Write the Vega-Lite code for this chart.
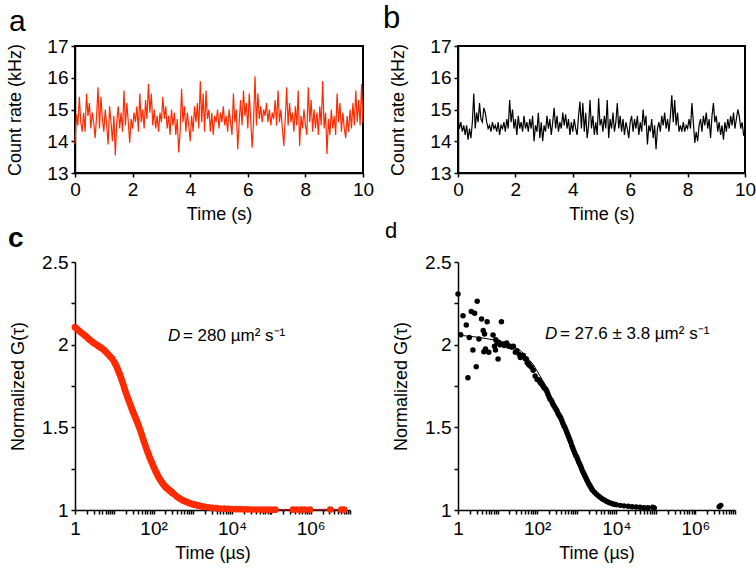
{
"$schema": "https://vega.github.io/schema/vega-lite/v6.json",
"background": "white",
"padding": {"left": 5, "top": 2, "right": 5, "bottom": 5},
"columns": 2,
"bounds": "flush",
"spacing": {"row": 89, "column": 95},
"config": {
  "font": "Liberation Sans",
  "view": {"stroke": null},
  "axis": {"grid": false, "labelFlush": false, "domainColor": "black", "domainWidth": 1.5, "tickColor": "black", "tickWidth": 1.5, "tickSize": 4, "labelColor": "black", "titleColor": "black", "labelFontSize": 19, "titleFontSize": 18, "titleFontWeight": "normal", "labelPadding": 3, "titlePadding": 6},
  "title": {"color": "black", "fontWeight": "normal"}
},
"concat": [
{
  "width": 288, "height": 127,
  "title": {"text": "a", "anchor": "start", "frame": "group", "dx": -66, "offset": -24, "baseline": "alphabetic", "fontSize": 30, "fontWeight": "normal"},
  "view": {"stroke": "black", "strokeWidth": 2},
  "data": {"values": [
{"t":0,"v":13.92},{"t":0.05,"v":14.85},{"t":0.1,"v":14.5},{"t":0.15,"v":15.4},{"t":0.2,"v":14.6},{"t":0.25,"v":14.3},{"t":0.3,"v":14.9},{"t":0.35,"v":14.3},{"t":0.4,"v":15.5},{"t":0.45,"v":14.8},
{"t":0.5,"v":15.2},{"t":0.55,"v":14.4},{"t":0.6,"v":14.9},{"t":0.65,"v":14.6},{"t":0.7,"v":14.1},{"t":0.75,"v":14.8},{"t":0.8,"v":15.7},{"t":0.85,"v":14.4},{"t":0.9,"v":15.4},{"t":0.95,"v":14.7},
{"t":1,"v":14.3},{"t":1.05,"v":15.0},{"t":1.1,"v":14.5},{"t":1.15,"v":13.9},{"t":1.2,"v":15.1},{"t":1.25,"v":14.6},{"t":1.3,"v":14.0},{"t":1.35,"v":14.8},{"t":1.4,"v":13.55},{"t":1.45,"v":14.6},
{"t":1.5,"v":15.1},{"t":1.55,"v":14.4},{"t":1.6,"v":14.9},{"t":1.65,"v":14.3},{"t":1.7,"v":15.6},{"t":1.75,"v":14.5},{"t":1.8,"v":15.2},{"t":1.85,"v":14.6},{"t":1.9,"v":13.95},{"t":1.95,"v":14.7},
{"t":2,"v":14.4},{"t":2.05,"v":14.9},{"t":2.1,"v":14.6},{"t":2.15,"v":15.1},{"t":2.2,"v":14.3},{"t":2.25,"v":15.5},{"t":2.3,"v":14.6},{"t":2.35,"v":15.0},{"t":2.4,"v":14.4},{"t":2.45,"v":15.3},
{"t":2.5,"v":14.7},{"t":2.55,"v":15.8},{"t":2.6,"v":14.9},{"t":2.65,"v":15.5},{"t":2.7,"v":14.5},{"t":2.75,"v":15.0},{"t":2.8,"v":14.4},{"t":2.85,"v":14.8},{"t":2.9,"v":14.3},{"t":2.95,"v":14.9},
{"t":3,"v":14.6},{"t":3.05,"v":15.4},{"t":3.1,"v":14.7},{"t":3.15,"v":15.1},{"t":3.2,"v":14.4},{"t":3.25,"v":14.8},{"t":3.3,"v":14.2},{"t":3.35,"v":15.0},{"t":3.4,"v":14.5},{"t":3.45,"v":14.9},
{"t":3.5,"v":14.2},{"t":3.55,"v":14.7},{"t":3.6,"v":13.65},{"t":3.65,"v":14.3},{"t":3.7,"v":15.65},{"t":3.75,"v":14.6},{"t":3.8,"v":15.1},{"t":3.85,"v":14.3},{"t":3.9,"v":14.9},{"t":3.95,"v":14.5},
{"t":4,"v":14.0},{"t":4.05,"v":14.8},{"t":4.1,"v":14.3},{"t":4.15,"v":15.1},{"t":4.2,"v":14.6},{"t":4.25,"v":15.2},{"t":4.3,"v":14.4},{"t":4.35,"v":15.9},{"t":4.4,"v":14.6},{"t":4.45,"v":15.5},
{"t":4.5,"v":14.3},{"t":4.55,"v":15.6},{"t":4.6,"v":14.7},{"t":4.65,"v":15.0},{"t":4.7,"v":14.3},{"t":4.75,"v":14.9},{"t":4.8,"v":14.2},{"t":4.85,"v":14.8},{"t":4.9,"v":14.6},{"t":4.95,"v":15.0},
{"t":5,"v":14.4},{"t":5.05,"v":14.9},{"t":5.1,"v":14.6},{"t":5.15,"v":15.1},{"t":5.2,"v":14.5},{"t":5.25,"v":14.8},{"t":5.3,"v":14.3},{"t":5.35,"v":15.0},{"t":5.4,"v":14.6},{"t":5.45,"v":14.2},
{"t":5.5,"v":15.5},{"t":5.55,"v":14.6},{"t":5.6,"v":15.0},{"t":5.65,"v":13.75},{"t":5.7,"v":14.6},{"t":5.75,"v":15.3},{"t":5.8,"v":14.5},{"t":5.85,"v":15.6},{"t":5.9,"v":14.8},{"t":5.95,"v":15.2},
{"t":6,"v":14.4},{"t":6.05,"v":15.5},{"t":6.1,"v":14.7},{"t":6.15,"v":13.8},{"t":6.2,"v":14.6},{"t":6.25,"v":16.05},{"t":6.3,"v":14.5},{"t":6.35,"v":15.5},{"t":6.4,"v":14.7},{"t":6.45,"v":15.1},
{"t":6.5,"v":14.6},{"t":6.55,"v":15.0},{"t":6.6,"v":14.8},{"t":6.65,"v":15.2},{"t":6.7,"v":14.6},{"t":6.75,"v":15.0},{"t":6.8,"v":14.5},{"t":6.85,"v":14.9},{"t":6.9,"v":14.7},{"t":6.95,"v":15.3},
{"t":7,"v":14.5},{"t":7.05,"v":15.6},{"t":7.1,"v":14.6},{"t":7.15,"v":15.0},{"t":7.2,"v":14.4},{"t":7.25,"v":13.85},{"t":7.3,"v":14.7},{"t":7.35,"v":15.7},{"t":7.4,"v":14.5},{"t":7.45,"v":15.2},
{"t":7.5,"v":14.6},{"t":7.55,"v":14.9},{"t":7.6,"v":14.3},{"t":7.65,"v":15.1},{"t":7.7,"v":14.5},{"t":7.75,"v":15.6},{"t":7.8,"v":13.85},{"t":7.85,"v":14.8},{"t":7.9,"v":14.4},{"t":7.95,"v":15.0},
{"t":8,"v":14.5},{"t":8.05,"v":14.2},{"t":8.1,"v":15.7},{"t":8.15,"v":14.6},{"t":8.2,"v":15.3},{"t":8.25,"v":14.3},{"t":8.3,"v":15.0},{"t":8.35,"v":14.4},{"t":8.4,"v":14.9},{"t":8.45,"v":14.2},
{"t":8.5,"v":15.1},{"t":8.55,"v":14.5},{"t":8.6,"v":15.9},{"t":8.65,"v":14.4},{"t":8.7,"v":14.9},{"t":8.75,"v":13.6},{"t":8.8,"v":14.7},{"t":8.85,"v":14.2},{"t":8.9,"v":15.0},{"t":8.95,"v":14.4},
{"t":9,"v":14.8},{"t":9.05,"v":14.2},{"t":9.1,"v":15.5},{"t":9.15,"v":14.6},{"t":9.2,"v":15.2},{"t":9.25,"v":14.3},{"t":9.3,"v":14.9},{"t":9.35,"v":14.4},{"t":9.4,"v":14.1},{"t":9.45,"v":14.8},
{"t":9.5,"v":14.3},{"t":9.55,"v":15.0},{"t":9.6,"v":14.4},{"t":9.65,"v":15.2},{"t":9.7,"v":14.5},{"t":9.75,"v":15.6},{"t":9.8,"v":14.6},{"t":9.85,"v":15.3},{"t":9.9,"v":14.5},{"t":9.95,"v":15.8},
{"t":10,"v":14.6}
  ]},
  "mark": {"type": "line", "color": "#ff2a00", "strokeWidth": 1.2},
  "encoding": {
    "x": {"field": "t", "type": "quantitative", "scale": {"domain": [0, 10], "nice": false}, "axis": {"values": [0, 2, 4, 6, 8, 10], "title": "Time (s)"}},
    "y": {"field": "v", "type": "quantitative", "scale": {"domain": [13, 17], "nice": false}, "axis": {"values": [13, 14, 15, 16, 17], "title": "Count rate (kHz)", "titlePadding": 22}}
  }
},
{
  "width": 287, "height": 127,
  "title": {"text": "b", "anchor": "start", "frame": "group", "dx": -75, "offset": -22, "baseline": "alphabetic", "fontSize": 31, "fontWeight": "normal"},
  "view": {"stroke": "black", "strokeWidth": 2},
  "data": {"values": [
{"t":0,"v":14.7},{"t":0.05,"v":14.4},{"t":0.1,"v":14.6},{"t":0.15,"v":14.3},{"t":0.2,"v":14.5},{"t":0.25,"v":14.2},{"t":0.3,"v":14.5},{"t":0.35,"v":14.05},{"t":0.4,"v":14.4},{"t":0.45,"v":14.1},
{"t":0.5,"v":14.6},{"t":0.55,"v":15.5},{"t":0.6,"v":14.4},{"t":0.65,"v":14.9},{"t":0.7,"v":14.6},{"t":0.75,"v":15.2},{"t":0.8,"v":14.7},{"t":0.85,"v":14.6},{"t":0.9,"v":15.05},{"t":0.95,"v":14.9},
{"t":1,"v":14.6},{"t":1.05,"v":14.4},{"t":1.1,"v":14.5},{"t":1.15,"v":14.3},{"t":1.2,"v":14.6},{"t":1.25,"v":14.4},{"t":1.3,"v":14.5},{"t":1.35,"v":14.3},{"t":1.4,"v":14.6},{"t":1.45,"v":14.2},
{"t":1.5,"v":14.5},{"t":1.55,"v":14.4},{"t":1.6,"v":14.6},{"t":1.65,"v":14.3},{"t":1.7,"v":14.7},{"t":1.75,"v":14.4},{"t":1.8,"v":15.3},{"t":1.85,"v":14.6},{"t":1.9,"v":15.0},{"t":1.95,"v":14.4},
{"t":2,"v":14.7},{"t":2.05,"v":14.2},{"t":2.1,"v":14.8},{"t":2.15,"v":14.4},{"t":2.2,"v":14.6},{"t":2.25,"v":14.3},{"t":2.3,"v":14.8},{"t":2.35,"v":14.4},{"t":2.4,"v":14.6},{"t":2.45,"v":14.3},
{"t":2.5,"v":14.7},{"t":2.55,"v":14.4},{"t":2.6,"v":14.8},{"t":2.65,"v":14.0},{"t":2.7,"v":14.5},{"t":2.75,"v":14.3},{"t":2.8,"v":14.9},{"t":2.85,"v":14.1},{"t":2.9,"v":14.6},{"t":2.95,"v":14.0},
{"t":3,"v":14.5},{"t":3.05,"v":14.3},{"t":3.1,"v":14.8},{"t":3.15,"v":14.4},{"t":3.2,"v":14.7},{"t":3.25,"v":14.2},{"t":3.3,"v":14.6},{"t":3.35,"v":15.05},{"t":3.4,"v":14.4},{"t":3.45,"v":14.8},
{"t":3.5,"v":14.3},{"t":3.55,"v":14.6},{"t":3.6,"v":14.4},{"t":3.65,"v":14.9},{"t":3.7,"v":14.5},{"t":3.75,"v":14.85},{"t":3.8,"v":14.4},{"t":3.85,"v":14.7},{"t":3.9,"v":14.2},{"t":3.95,"v":14.6},
{"t":4,"v":14.3},{"t":4.05,"v":14.7},{"t":4.1,"v":14.4},{"t":4.15,"v":14.2},{"t":4.2,"v":14.8},{"t":4.25,"v":15.25},{"t":4.3,"v":14.4},{"t":4.35,"v":15.2},{"t":4.4,"v":14.3},{"t":4.45,"v":14.9},
{"t":4.5,"v":14.1},{"t":4.55,"v":14.5},{"t":4.6,"v":15.3},{"t":4.65,"v":14.4},{"t":4.7,"v":14.8},{"t":4.75,"v":14.2},{"t":4.8,"v":14.6},{"t":4.85,"v":14.2},{"t":4.9,"v":15.35},{"t":4.95,"v":14.5},
{"t":5,"v":14.7},{"t":5.05,"v":14.3},{"t":5.1,"v":14.8},{"t":5.15,"v":14.4},{"t":5.2,"v":15.3},{"t":5.25,"v":14.1},{"t":5.3,"v":14.7},{"t":5.35,"v":14.4},{"t":5.4,"v":14.9},{"t":5.45,"v":14.3},
{"t":5.5,"v":14.6},{"t":5.55,"v":15.2},{"t":5.6,"v":14.4},{"t":5.65,"v":14.8},{"t":5.7,"v":14.3},{"t":5.75,"v":14.7},{"t":5.8,"v":14.2},{"t":5.85,"v":14.6},{"t":5.9,"v":14.4},{"t":5.95,"v":14.1},
{"t":6,"v":14.6},{"t":6.05,"v":14.8},{"t":6.1,"v":14.3},{"t":6.15,"v":14.7},{"t":6.2,"v":14.4},{"t":6.25,"v":14.8},{"t":6.3,"v":14.2},{"t":6.35,"v":14.6},{"t":6.4,"v":14.3},{"t":6.45,"v":15.0},
{"t":6.5,"v":14.5},{"t":6.55,"v":14.8},{"t":6.6,"v":13.9},{"t":6.65,"v":14.5},{"t":6.7,"v":14.3},{"t":6.75,"v":14.7},{"t":6.8,"v":14.1},{"t":6.85,"v":14.5},{"t":6.9,"v":13.75},{"t":6.95,"v":14.4},
{"t":7,"v":14.6},{"t":7.05,"v":14.3},{"t":7.1,"v":14.8},{"t":7.15,"v":14.5},{"t":7.2,"v":14.9},{"t":7.25,"v":14.4},{"t":7.3,"v":14.7},{"t":7.35,"v":14.3},{"t":7.4,"v":14.8},{"t":7.45,"v":15.45},
{"t":7.5,"v":14.6},{"t":7.55,"v":15.3},{"t":7.6,"v":14.5},{"t":7.65,"v":14.9},{"t":7.7,"v":14.3},{"t":7.75,"v":14.5},{"t":7.8,"v":14.3},{"t":7.85,"v":14.6},{"t":7.9,"v":14.3},{"t":7.95,"v":14.5},
{"t":8,"v":14.4},{"t":8.05,"v":14.7},{"t":8.1,"v":14.4},{"t":8.15,"v":15.2},{"t":8.2,"v":14.6},{"t":8.25,"v":13.95},{"t":8.3,"v":14.3},{"t":8.35,"v":14.0},{"t":8.4,"v":14.5},{"t":8.45,"v":14.7},
{"t":8.5,"v":14.3},{"t":8.55,"v":14.8},{"t":8.6,"v":14.5},{"t":8.65,"v":14.9},{"t":8.7,"v":14.4},{"t":8.75,"v":14.7},{"t":8.8,"v":14.1},{"t":8.85,"v":14.8},{"t":8.9,"v":15.2},{"t":8.95,"v":14.6},
{"t":9,"v":14.8},{"t":9.05,"v":14.3},{"t":9.1,"v":14.6},{"t":9.15,"v":14.2},{"t":9.2,"v":14.5},{"t":9.25,"v":14.05},{"t":9.3,"v":14.6},{"t":9.35,"v":14.3},{"t":9.4,"v":14.7},{"t":9.45,"v":14.4},
{"t":9.5,"v":14.8},{"t":9.55,"v":14.5},{"t":9.6,"v":14.9},{"t":9.65,"v":14.4},{"t":9.7,"v":14.7},{"t":9.75,"v":15.0},{"t":9.8,"v":14.8},{"t":9.85,"v":14.4},{"t":9.9,"v":14.6},{"t":9.95,"v":14.2},
{"t":10,"v":14.15}
  ]},
  "mark": {"type": "line", "color": "black", "strokeWidth": 1.2},
  "encoding": {
    "x": {"field": "t", "type": "quantitative", "scale": {"domain": [0, 10], "nice": false}, "axis": {"values": [0, 2, 4, 6, 8, 10], "title": "Time (s)"}},
    "y": {"field": "v", "type": "quantitative", "scale": {"domain": [13, 17], "nice": false}, "axis": {"values": [13, 14, 15, 16, 17], "title": "Count rate (kHz)", "titlePadding": 22}}
  }
},
{
  "width": 275, "height": 248,
  "title": {"text": "c", "anchor": "start", "frame": "group", "dx": -67, "offset": -22, "baseline": "alphabetic", "fontSize": 28, "fontWeight": "bold"},
  "encoding": {
    "x": {"field": "tau", "type": "quantitative", "scale": {"type": "log", "domain": [1, 10000000], "nice": false},
      "axis": {"title": "Time (µs)", "values": [1,2,3,4,5,6,7,8,9,10,20,30,40,50,60,70,80,90,100,200,300,400,500,600,700,800,900,1000,2000,3000,4000,5000,6000,7000,8000,9000,10000,20000,30000,40000,50000,60000,70000,80000,90000,100000,200000,300000,400000,500000,600000,700000,800000,900000,1000000,2000000,3000000,4000000,5000000,6000000,7000000,8000000,9000000,10000000],
        "labelExpr": "datum.value == 1 ? '1' : datum.value == 100 ? '10²' : datum.value == 10000 ? '10⁴' : datum.value == 1000000 ? '10⁶' : ''", "labelPadding": 5}},
    "y": {"field": "g", "type": "quantitative", "scale": {"domain": [1, 2.5], "nice": false},
      "axis": {"title": "Normalized G(τ)", "values": [1, 1.25, 1.5, 1.75, 2, 2.25, 2.5], "labelExpr": "(datum.value * 2) % 1 == 0 ? '' + datum.value : ''", "titlePadding": 14}}
  },
  "layer": [
    {"data": {"name": "cdata"}, "mark": {"type": "line", "color": "#a3161a", "strokeWidth": 1.5}},
    {"data": {"name": "cdata"}, "mark": {"type": "circle", "color": "#ff2a00", "size": 45, "opacity": 1}},
    {"data": {"values": [{"tau": 232, "g": 2.022, "label": "D"}]}, "mark": {"type": "text", "align": "left", "baseline": "alphabetic", "fontSize": 17, "fontStyle": "italic", "color": "black"}, "encoding": {"text": {"field": "label"}}},
    {"data": {"values": [{"tau": 560, "g": 2.022, "label": "= 280 µm² s⁻¹"}]}, "mark": {"type": "text", "align": "left", "baseline": "alphabetic", "fontSize": 17, "color": "black"}, "encoding": {"text": {"field": "label"}}}
  ]
},
{
  "width": 277, "height": 248,
  "title": {"text": "d", "anchor": "start", "frame": "group", "dx": -73, "offset": -7, "baseline": "alphabetic", "fontSize": 22, "fontWeight": "normal"},
  "encoding": {
    "x": {"field": "tau", "type": "quantitative", "scale": {"type": "log", "domain": [1, 10000000], "nice": false},
      "axis": {"title": "Time (µs)", "values": [1,2,3,4,5,6,7,8,9,10,20,30,40,50,60,70,80,90,100,200,300,400,500,600,700,800,900,1000,2000,3000,4000,5000,6000,7000,8000,9000,10000,20000,30000,40000,50000,60000,70000,80000,90000,100000,200000,300000,400000,500000,600000,700000,800000,900000,1000000,2000000,3000000,4000000,5000000,6000000,7000000,8000000,9000000,10000000],
        "labelExpr": "datum.value == 1 ? '1' : datum.value == 100 ? '10²' : datum.value == 10000 ? '10⁴' : datum.value == 1000000 ? '10⁶' : ''", "labelPadding": 5}},
    "y": {"field": "g", "type": "quantitative", "scale": {"domain": [1, 2.5], "nice": false},
      "axis": {"title": "Normalized G(τ)", "values": [1, 1.25, 1.5, 1.75, 2, 2.25, 2.5], "labelExpr": "(datum.value * 2) % 1 == 0 ? '' + datum.value : ''", "titlePadding": 14}}
  },
  "layer": [
    {"data": {"name": "dfit"}, "mark": {"type": "line", "color": "black", "strokeWidth": 1}},
    {"data": {"name": "ddata"}, "mark": {"type": "circle", "color": "black", "size": 30, "opacity": 1}},
    {"data": {"values": [{"tau": 157, "g": 2.034, "label": "D"}]}, "mark": {"type": "text", "align": "left", "baseline": "alphabetic", "fontSize": 17, "fontStyle": "italic", "color": "black"}, "encoding": {"text": {"field": "label"}}},
    {"data": {"values": [{"tau": 377, "g": 2.034, "label": "= 27.6 ± 3.8 µm² s⁻¹"}]}, "mark": {"type": "text", "align": "left", "baseline": "alphabetic", "fontSize": 17, "color": "black"}, "encoding": {"text": {"field": "label"}}}
  ]
}
],
"datasets": {
  "cdata": [
{"tau":1,"g":2.106},{"tau":1.12,"g":2.095},{"tau":1.26,"g":2.085},{"tau":1.41,"g":2.075},{"tau":1.58,"g":2.066},{"tau":1.78,"g":2.056},{"tau":2,"g":2.046},{"tau":2.24,"g":2.035},{"tau":2.51,"g":2.025},{"tau":2.82,"g":2.015},
{"tau":3.16,"g":2.007},{"tau":3.55,"g":1.999},{"tau":3.98,"g":1.991},{"tau":4.47,"g":1.983},{"tau":5.01,"g":1.975},{"tau":5.62,"g":1.965},{"tau":6.31,"g":1.953},{"tau":7.08,"g":1.94},{"tau":7.94,"g":1.927},{"tau":8.91,"g":1.914},
{"tau":10,"g":1.895},{"tau":10.6,"g":1.884},{"tau":11.2,"g":1.872},{"tau":11.9,"g":1.858},{"tau":12.6,"g":1.843},{"tau":13.3,"g":1.829},{"tau":14.1,"g":1.814},{"tau":15,"g":1.797},{"tau":15.8,"g":1.78},{"tau":16.8,"g":1.762},
{"tau":17.8,"g":1.743},{"tau":18.8,"g":1.724},{"tau":20,"g":1.706},{"tau":21.1,"g":1.69},{"tau":22.4,"g":1.674},{"tau":23.7,"g":1.658},{"tau":25.1,"g":1.642},{"tau":26.6,"g":1.626},{"tau":28.2,"g":1.61},{"tau":29.9,"g":1.595},
{"tau":31.6,"g":1.58},{"tau":33.5,"g":1.566},{"tau":35.5,"g":1.551},{"tau":37.6,"g":1.537},{"tau":39.8,"g":1.522},{"tau":42.2,"g":1.506},{"tau":44.7,"g":1.49},{"tau":47.3,"g":1.473},{"tau":50.1,"g":1.455},{"tau":53.1,"g":1.437},
{"tau":56.2,"g":1.418},{"tau":59.6,"g":1.4},{"tau":63.1,"g":1.383},{"tau":66.8,"g":1.366},{"tau":70.8,"g":1.35},{"tau":75,"g":1.334},{"tau":79.4,"g":1.318},{"tau":84.1,"g":1.304},{"tau":89.1,"g":1.29},{"tau":94.4,"g":1.276},
{"tau":100,"g":1.262},{"tau":106,"g":1.249},{"tau":112,"g":1.236},{"tau":119,"g":1.224},{"tau":126,"g":1.212},{"tau":133,"g":1.201},{"tau":141,"g":1.19},{"tau":150,"g":1.181},{"tau":158,"g":1.172},{"tau":168,"g":1.163},
{"tau":178,"g":1.155},{"tau":188,"g":1.148},{"tau":200,"g":1.141},{"tau":211,"g":1.135},{"tau":224,"g":1.13},{"tau":237,"g":1.125},{"tau":251,"g":1.12},{"tau":266,"g":1.115},{"tau":282,"g":1.11},{"tau":299,"g":1.105},
{"tau":316,"g":1.1},{"tau":355,"g":1.09},{"tau":398,"g":1.08},{"tau":447,"g":1.072},{"tau":501,"g":1.065},{"tau":562,"g":1.058},{"tau":631,"g":1.053},{"tau":708,"g":1.048},{"tau":794,"g":1.043},{"tau":891,"g":1.039},
{"tau":1000,"g":1.035},{"tau":1120,"g":1.032},{"tau":1260,"g":1.029},{"tau":1410,"g":1.026},{"tau":1580,"g":1.023},{"tau":1780,"g":1.021},{"tau":2000,"g":1.019},{"tau":2510,"g":1.016},{"tau":3160,"g":1.013},{"tau":3980,"g":1.011},
{"tau":5010,"g":1.009},{"tau":6310,"g":1.008},{"tau":7940,"g":1.007},{"tau":10000,"g":1.006},{"tau":12600,"g":1.005},{"tau":15800,"g":1.005},{"tau":20000,"g":1.004},{"tau":25100,"g":1.004},{"tau":31600,"g":1.003},{"tau":39800,"g":1.003},
{"tau":50100,"g":1.003},{"tau":63100,"g":1.002},{"tau":79400,"g":1.002},{"tau":100000,"g":1.002},{"tau":126000,"g":1.002},{"tau":355000,"g":1.002},{"tau":447000,"g":1.003},{"tau":562000,"g":1.002},{"tau":708000,"g":1.003},{"tau":955000,"g":1.002},
{"tau":3160000,"g":1.003},{"tau":6030000,"g":1.002},{"tau":7080000,"g":1.002}
  ],
  "ddata": [
{"tau":1,"g":2.306},{"tau":1.17,"g":2.06},{"tau":1.34,"g":2.175},{"tau":1.62,"g":2.119},{"tau":1.78,"g":1.8},{"tau":1.93,"g":2.044},{"tau":2.16,"g":2.2},{"tau":2.38,"g":1.968},{"tau":2.63,"g":2.19},{"tau":2.89,"g":1.867},
{"tau":3.06,"g":2.262},{"tau":3.37,"g":2.034},{"tau":3.94,"g":2.155},{"tau":4.33,"g":2.085},{"tau":4.5,"g":1.957},{"tau":4.69,"g":2.065},{"tau":4.96,"g":1.974},{"tau":5.45,"g":2.139},{"tau":6,"g":1.954},{"tau":7.7,"g":2.058},
{"tau":8.36,"g":1.99},{"tau":8.86,"g":1.968},{"tau":9,"g":2.03},{"tau":9.71,"g":2.01},{"tau":10.3,"g":1.913},{"tau":10.7,"g":2.014},{"tau":11.5,"g":2.0},{"tau":12.5,"g":2.139},{"tau":13.7,"g":2.004},{"tau":14.8,"g":1.995},
{"tau":15.8,"g":2.004},{"tau":17,"g":2.01},{"tau":19.1,"g":1.99},{"tau":21,"g":1.99},{"tau":23.1,"g":1.984},{"tau":25.1,"g":1.99},{"tau":28.2,"g":1.954},{"tau":30.9,"g":1.964},{"tau":35.5,"g":1.94},{"tau":37.6,"g":1.923},
{"tau":39.8,"g":1.93},{"tau":44.7,"g":1.935},{"tau":50.1,"g":1.915},{"tau":53.2,"g":1.913},{"tau":56.2,"g":1.89},{"tau":60.8,"g":1.883},{"tau":63.1,"g":1.875},{"tau":70.8,"g":1.865},{"tau":79.4,"g":1.845},{"tau":89.1,"g":1.81},
{"tau":100,"g":1.79},{"tau":106,"g":1.79},{"tau":112,"g":1.785},{"tau":119,"g":1.772},{"tau":126,"g":1.765},{"tau":133,"g":1.76},{"tau":141,"g":1.75},{"tau":150,"g":1.74},{"tau":158,"g":1.735},{"tau":168,"g":1.728},
{"tau":178,"g":1.715},{"tau":188,"g":1.7},{"tau":200,"g":1.685},{"tau":211,"g":1.672},{"tau":224,"g":1.665},{"tau":237,"g":1.655},{"tau":251,"g":1.64},{"tau":266,"g":1.63},{"tau":282,"g":1.62},{"tau":299,"g":1.61},
{"tau":316,"g":1.6},{"tau":335,"g":1.585},{"tau":355,"g":1.575},{"tau":376,"g":1.565},{"tau":398,"g":1.555},{"tau":422,"g":1.54},{"tau":447,"g":1.525},{"tau":473,"g":1.51},{"tau":501,"g":1.5},{"tau":531,"g":1.485},
{"tau":562,"g":1.47},{"tau":596,"g":1.455},{"tau":631,"g":1.44},{"tau":668,"g":1.425},{"tau":708,"g":1.41},{"tau":750,"g":1.39},{"tau":794,"g":1.375},{"tau":841,"g":1.36},{"tau":891,"g":1.345},{"tau":944,"g":1.33},
{"tau":1000,"g":1.32},{"tau":1060,"g":1.305},{"tau":1120,"g":1.29},{"tau":1190,"g":1.278},{"tau":1260,"g":1.265},{"tau":1330,"g":1.25},{"tau":1410,"g":1.235},{"tau":1500,"g":1.222},{"tau":1580,"g":1.21},{"tau":1680,"g":1.197},
{"tau":1780,"g":1.185},{"tau":1880,"g":1.172},{"tau":2000,"g":1.16},{"tau":2110,"g":1.15},{"tau":2240,"g":1.14},{"tau":2370,"g":1.13},{"tau":2510,"g":1.12},{"tau":2820,"g":1.107},
{"tau":3160,"g":1.095},{"tau":3550,"g":1.085},{"tau":3980,"g":1.075},{"tau":4470,"g":1.067},{"tau":5010,"g":1.06},{"tau":5620,"g":1.053},{"tau":6310,"g":1.047},{"tau":7080,"g":1.042},{"tau":7940,"g":1.038},{"tau":8910,"g":1.035},
{"tau":10000,"g":1.032},{"tau":12600,"g":1.028},{"tau":15800,"g":1.025},{"tau":20000,"g":1.022},{"tau":25100,"g":1.02},{"tau":31600,"g":1.018},{"tau":39800,"g":1.016},{"tau":50100,"g":1.014},{"tau":63100,"g":1.013},{"tau":83200,"g":1.016},
{"tau":91200,"g":1.012},{"tau":3980000,"g":1.02},{"tau":4370000,"g":1.028}
  ],
  "dfit": [
{"tau":1,"g":2.058},{"tau":3.16,"g":2.045},{"tau":10,"g":2.025},{"tau":21.4,"g":2.0},{"tau":40,"g":1.96},{"tau":80,"g":1.88},{"tau":158,"g":1.76},{"tau":316,"g":1.6},{"tau":631,"g":1.43},{"tau":1000,"g":1.32},
{"tau":1580,"g":1.21},{"tau":3160,"g":1.1},{"tau":6310,"g":1.05},{"tau":12600,"g":1.03},{"tau":31600,"g":1.018},{"tau":100000,"g":1.012}
  ]
}
}
